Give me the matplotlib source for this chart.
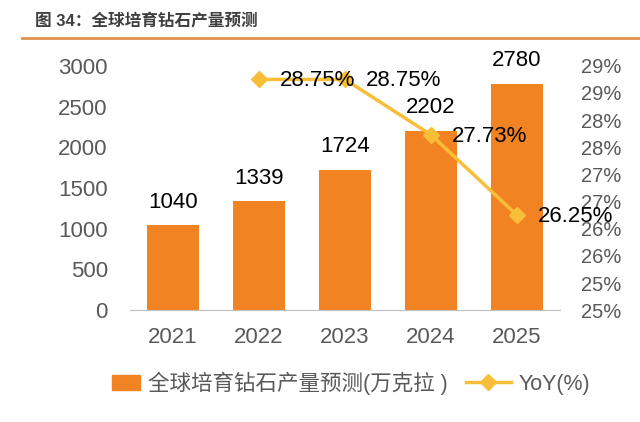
import numpy as np
import matplotlib.pyplot as plt
from matplotlib.lines import Line2D
from matplotlib.patches import Rectangle
from matplotlib.legend_handler import HandlerPatch

plt.rcParams['font.family'] = ['Liberation Sans', 'Noto Sans CJK SC', 'DejaVu Sans']

# data
years = ["2021", "2022", "2023", "2024", "2025"]
output = [1040, 1339, 1724, 2202, 2780]
yoy_years = ["2022", "2023", "2024", "2025"]
yoy = [28.75, 28.75, 27.73, 26.25]

bar_color = "#F28322"
line_color = "#F8BE38"
tick_color = "#595959"

fig = plt.figure(figsize=(6.4, 4.22), dpi=100)
ax = fig.add_axes([0.203, 0.265, 0.672, 0.579])

x = np.arange(len(years))
ax.bar(x, output, width=0.61, color=bar_color, zorder=2)
for xi, v in zip(x, output):
    ax.annotate(str(v), (xi, v), xytext=(0, 9), textcoords="offset points",
                ha="center", va="bottom", fontsize=16, color="black")

ax.set_ylim(0, 3000)
ax.set_yticks(range(0, 3001, 500))
ax.set_xlim(-0.5, 4.5)
ax.set_xticks(x)
ax.set_xticklabels(years)
for s in ["top", "right", "left"]:
    ax.spines[s].set_visible(False)
ax.spines["bottom"].set_color("#BFBFBF")
ax.tick_params(axis="both", length=0, labelsize=16, colors=tick_color)
ax.tick_params(axis="y", pad=16)
ax.tick_params(axis="x", pad=12)

ax2 = ax.twinx()
xl = [years.index(y) for y in yoy_years]
ax2.plot(xl, yoy, color=line_color, lw=2.5, marker="D", markersize=8, zorder=3)
for xi, v in zip(xl, yoy):
    ax2.annotate(f"{v:.2f}%", (xi, v), xytext=(15, -1), textcoords="offset points",
                 ha="left", va="center", fontsize=16, color="black")
ax2.set_ylim(24.5, 29.0)
rt = np.arange(24.5, 29.01, 0.5)
ax2.set_yticks(rt)
ax2.set_yticklabels([f"{int(np.floor(t + 0.5))}%" for t in rt])
for s in ["top", "right", "left", "bottom"]:
    ax2.spines[s].set_visible(False)
ax2.tick_params(axis="y", length=0, labelsize=14.5, colors=tick_color, pad=15)

# title and rule
fig.text(0.055, 0.950, "图 34：全球培育钻石产量预测", fontsize=12, fontweight="bold",
         color="#3F3F3F", va="center", ha="left")
fig.add_artist(Line2D([0.035, 1.0], [0.911, 0.911], color="#E0904A", lw=2))


def narrow_rect(legend, orig_handle, xdescent, ydescent, width, height, fontsize):
    w = width * 0.62
    return Rectangle((width - w - xdescent, -ydescent), w, height)


# legend
handles = [Rectangle((0, 0), 1, 1, color=bar_color),
           Line2D([], [], color=line_color, lw=2.5, marker="D", markersize=8)]
labels = ["全球培育钻石产量预测(万克拉 )", "YoY(%)"]
fig.legend(handles, labels, loc="center", bbox_to_anchor=(0.535, 0.092), ncol=2,
           frameon=False, fontsize=15.5, labelcolor=tick_color, handlelength=2.1,
           handletextpad=0.35, columnspacing=0.85,
           handler_map={Rectangle: HandlerPatch(patch_func=narrow_rect)})

fig.savefig("out.png", dpi=100)
